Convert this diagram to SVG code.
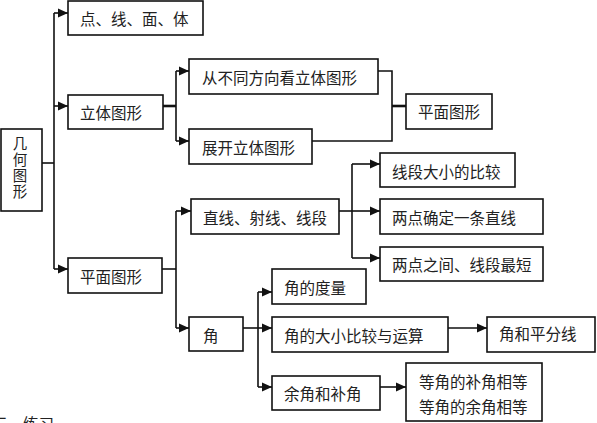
<svg xmlns="http://www.w3.org/2000/svg" width="597" height="423" viewBox="0 0 597 423">
<style>
  .box { fill: #ffffff; stroke: #111111; stroke-width: 1.6; }
  .t { font-family: "Noto Sans CJK SC", "Noto Sans", sans-serif; font-size: 15.5px; fill: #222222; dominant-baseline: central; }
  .tv { font-family: "Noto Sans CJK SC", "Noto Sans", sans-serif; font-size: 14.5px; fill: #222222; writing-mode: vertical-rl; letter-spacing: 1.5px; }
  .ln { fill: none; stroke: #111111; stroke-width: 1.6; }
  .thick { fill: none; stroke: #111111; stroke-width: 2.6; }
  .arr { marker-end: url(#ah); }
</style>
<defs>
  <marker id="ah" markerUnits="userSpaceOnUse" markerWidth="10" markerHeight="10" refX="10" refY="5" orient="auto">
    <path d="M0,0.5 L10,5 L0,9.5 Z" fill="#111111"/>
  </marker>
</defs>
<rect width="597" height="423" fill="#ffffff"/>

<g id="connectors">
  <path class="ln" d="M42,163 H54"/>
  <path class="ln" d="M54,13 V269"/>
  <path class="ln arr" d="M54,13 H68"/>
  <path class="ln arr" d="M54,106 H68"/>
  <path class="ln arr" d="M54,269 H68"/>
  <path class="thick" d="M163,106 H176"/>
  <path class="ln" d="M176,71 V141"/>
  <path class="ln arr" d="M176,71 H189"/>
  <path class="ln arr" d="M176,141 H189"/>
  <path class="ln" d="M378,71 H392 V141 H312"/>
  <path class="thick" d="M392,106 H406"/>
  <path class="ln" d="M162,269 H176"/>
  <path class="ln" d="M176,211 V328"/>
  <path class="ln arr" d="M176,211 H191"/>
  <path class="ln arr" d="M176,328 H189"/>
  <path class="ln" d="M339,211 H352"/>
  <path class="ln" d="M352,164 V258"/>
  <path class="ln arr" d="M352,164 H380"/>
  <path class="ln arr" d="M352,211 H380"/>
  <path class="ln arr" d="M352,258 H380"/>
  <path class="ln" d="M243,328 H258"/>
  <path class="ln" d="M258,292 V387"/>
  <path class="ln arr" d="M258,292 H272"/>
  <path class="ln arr" d="M258,328 H272"/>
  <path class="ln arr" d="M258,387 H272"/>
  <path class="ln arr" d="M448,328 H487"/>
  <path class="ln arr" d="M380,387 H406"/>
</g>

<g id="n-root">
  <rect class="box" x="1" y="129" width="41" height="82"/>
  <text class="tv" x="20" y="136">几何图形</text>
</g>
<g id="n-dxmt">
  <rect class="box" x="68" y="1" width="135" height="34"/>
  <text class="t" x="80" y="18">点、线、面、体</text>
</g>
<g id="n-ltx">
  <rect class="box" x="68" y="95" width="95" height="34"/>
  <text class="t" x="80" y="112">立体图形</text>
</g>
<g id="n-cbt">
  <rect class="box" x="189" y="59" width="189" height="35"/>
  <text class="t" x="202" y="77">从不同方向看立体图形</text>
</g>
<g id="n-zk">
  <rect class="box" x="189" y="129" width="123" height="35"/>
  <text class="t" x="202" y="147">展开立体图形</text>
</g>
<g id="n-pm1">
  <rect class="box" x="406" y="94" width="86" height="35"/>
  <text class="t" x="418" y="111">平面图形</text>
</g>
<g id="n-pm2">
  <rect class="box" x="68" y="258" width="94" height="35"/>
  <text class="t" x="80" y="276">平面图形</text>
</g>
<g id="n-zx">
  <rect class="box" x="191" y="199" width="148" height="35"/>
  <text class="t" x="203" y="217">直线、射线、线段</text>
</g>
<g id="n-xd">
  <rect class="box" x="380" y="153" width="135" height="34"/>
  <text class="t" x="392" y="171">线段大小的比较</text>
</g>
<g id="n-ld">
  <rect class="box" x="380" y="199" width="163" height="35"/>
  <text class="t" x="392" y="217">两点确定一条直线</text>
</g>
<g id="n-lz">
  <rect class="box" x="380" y="247" width="163" height="34"/>
  <text class="t" x="392" y="264">两点之间、线段最短</text>
</g>
<g id="n-jiao">
  <rect class="box" x="189" y="317" width="54" height="34"/>
  <text class="t" x="203" y="335">角</text>
</g>
<g id="n-dl">
  <rect class="box" x="272" y="269" width="94" height="35"/>
  <text class="t" x="284" y="287">角的度量</text>
</g>
<g id="n-dx">
  <rect class="box" x="272" y="317" width="176" height="35"/>
  <text class="t" x="284" y="335">角的大小比较与运算</text>
</g>
<g id="n-yj">
  <rect class="box" x="272" y="376" width="108" height="34"/>
  <text class="t" x="284" y="393">余角和补角</text>
</g>
<g id="n-pf">
  <rect class="box" x="487" y="317" width="108" height="35"/>
  <text class="t" x="499" y="333">角和平分线</text>
</g>
<g id="n-dj">
  <rect class="box" x="406" y="363" width="136" height="58"/>
  <text class="t" x="419" y="381">等角的补角相等</text>
  <text class="t" x="419" y="406">等角的余角相等</text>
</g>
<text class="t" x="-8" y="423">三、练习</text>
</svg>
